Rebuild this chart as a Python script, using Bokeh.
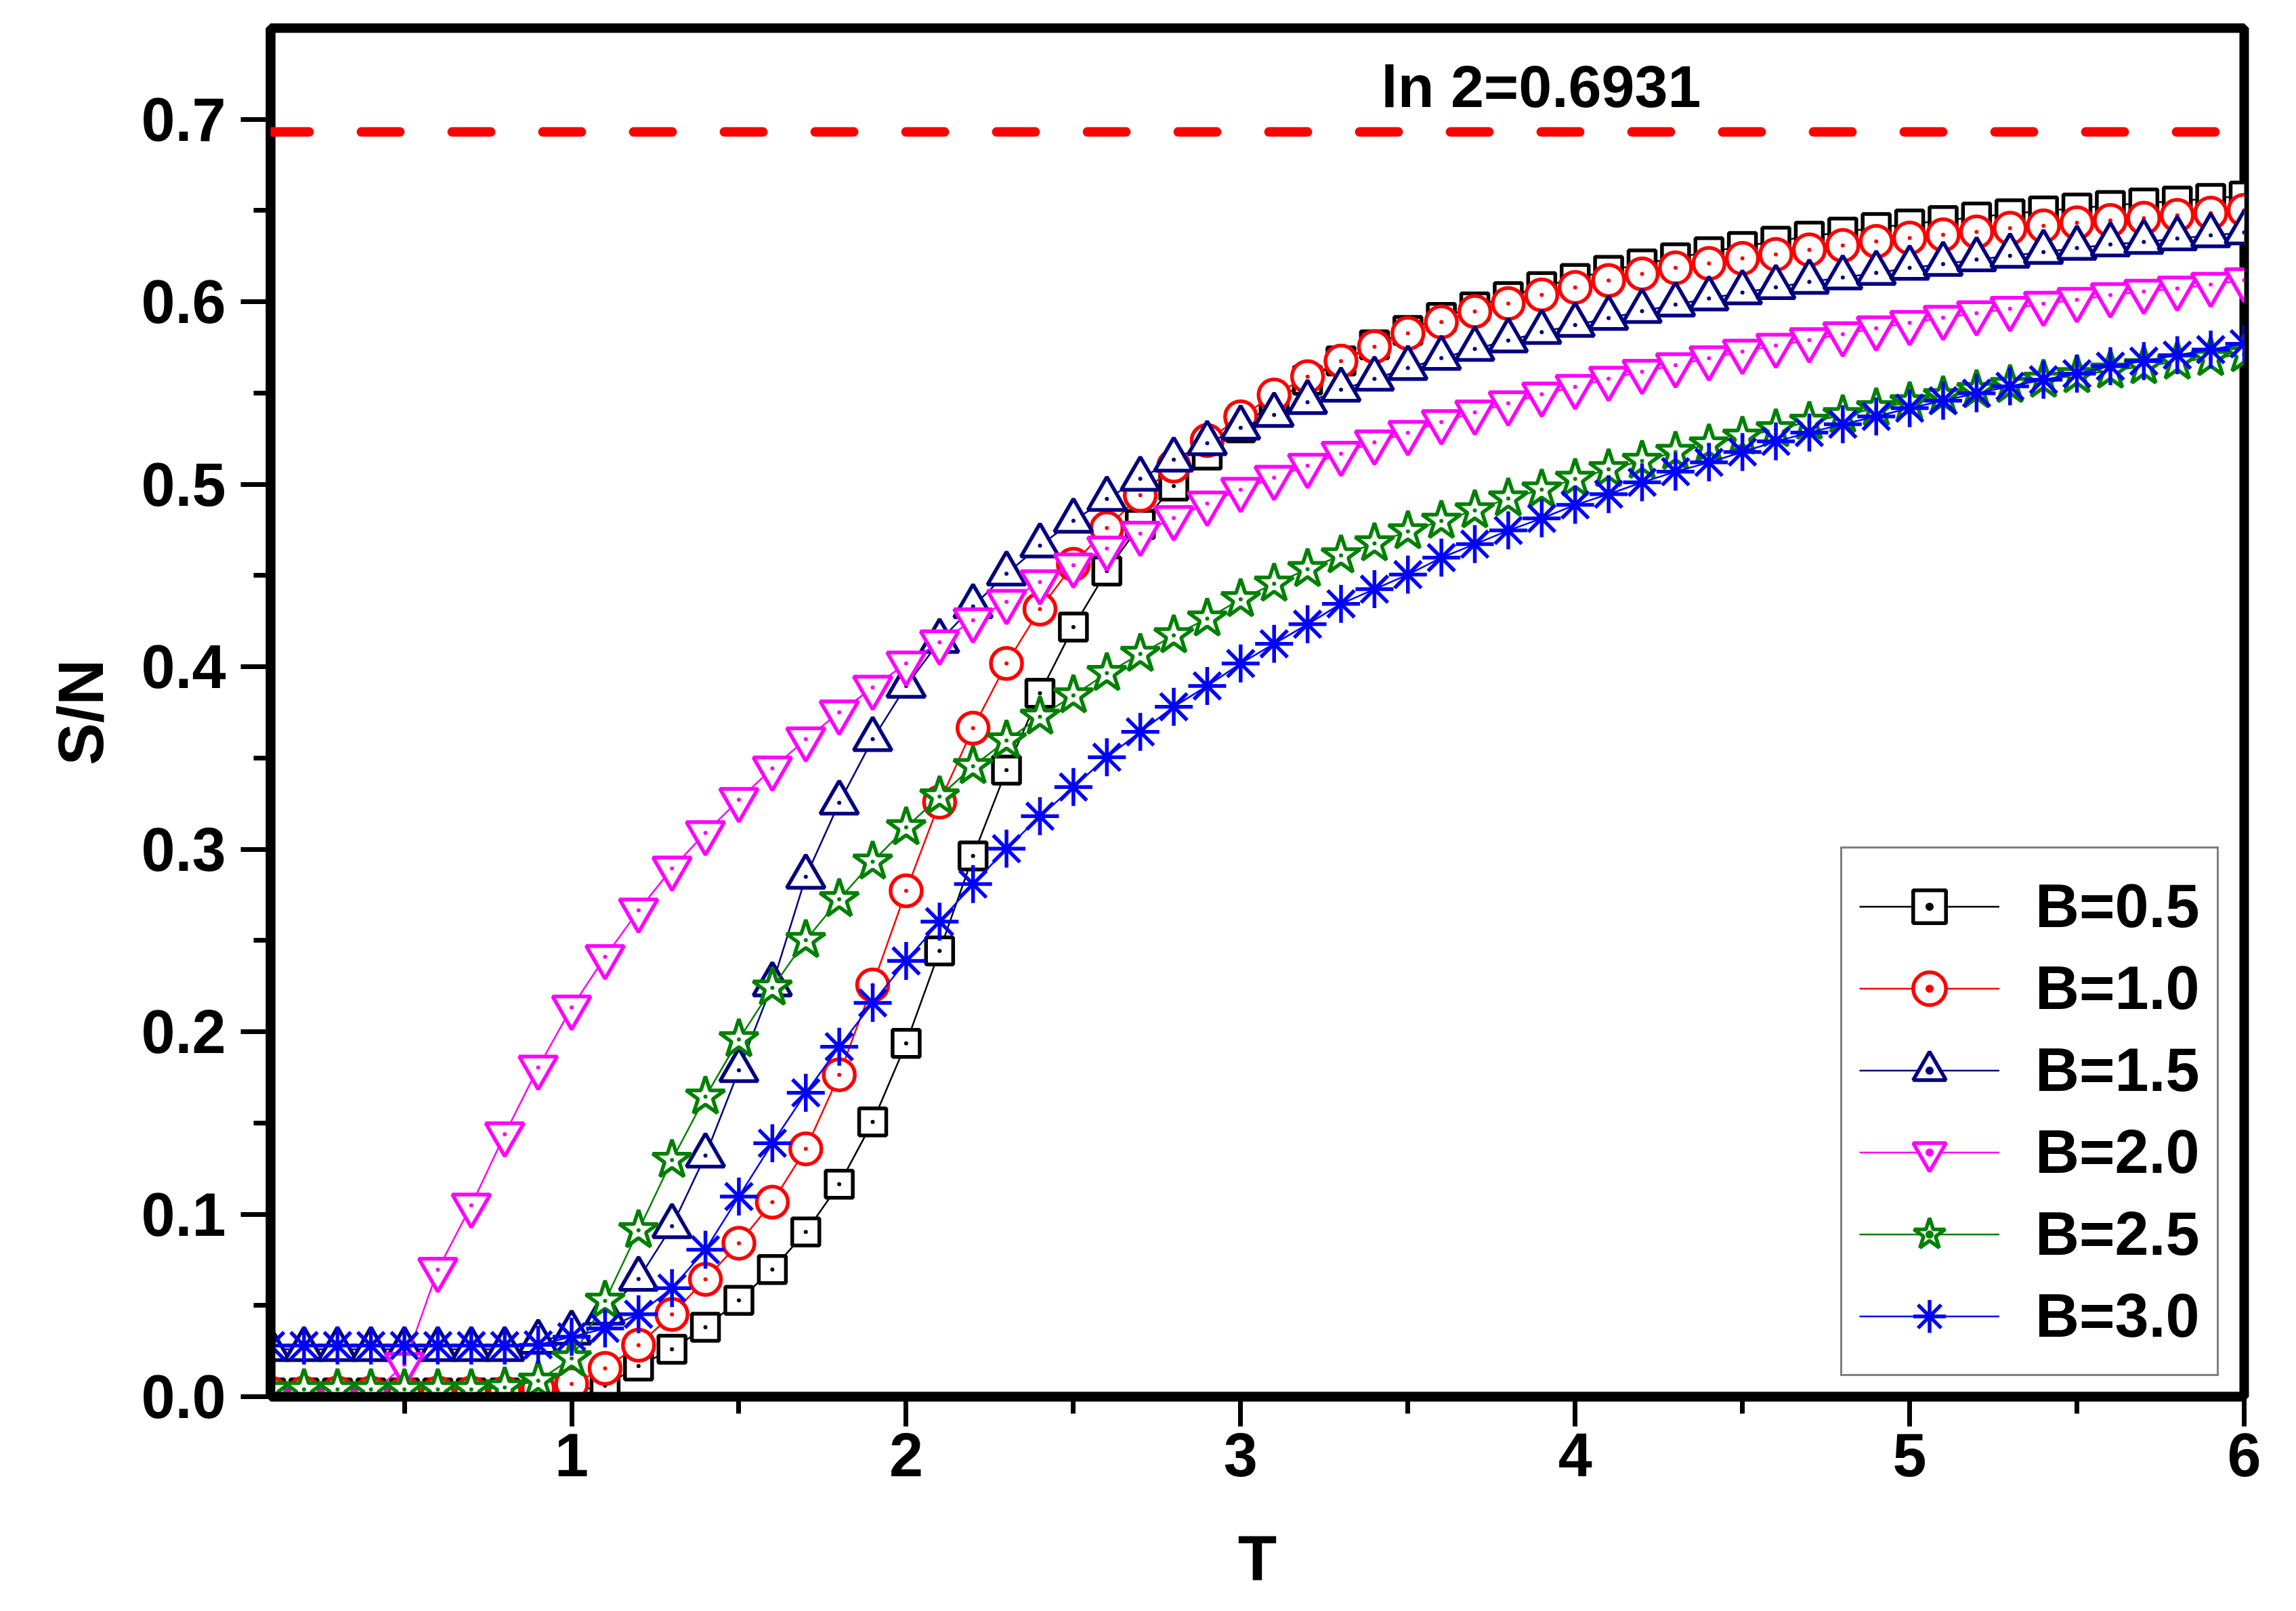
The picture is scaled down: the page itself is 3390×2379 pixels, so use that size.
import math
from bokeh.plotting import figure
from bokeh.models import (Range1d, SingleIntervalTicker, Span, Label, Legend,
                          LegendItem, NumeralTickFormatter, ColumnDataSource)
from bokeh.embed import file_html
from bokeh.resources import INLINE

# ---------------- data ----------------
T = [0.1, 0.2, 0.3, 0.4, 0.5, 0.6, 0.7, 0.8, 0.9, 1.0,
     1.1, 1.2, 1.3, 1.4, 1.5, 1.6, 1.7, 1.8, 1.9, 2.0,
     2.1, 2.2, 2.3, 2.4, 2.5, 2.6, 2.7, 2.8, 2.9, 3.0,
     3.1, 3.2, 3.3, 3.4, 3.5, 3.6, 3.7, 3.8, 3.9, 4.0,
     4.1, 4.2, 4.3, 4.4, 4.5, 4.6, 4.7, 4.8, 4.9, 5.0,
     5.1, 5.2, 5.3, 5.4, 5.5, 5.6, 5.7, 5.8, 5.9, 6.0]

S_B05 = [0.002, 0.002, 0.002, 0.002, 0.002, 0.002, 0.002, 0.002, 0.002, 0.003,
         0.006, 0.0168, 0.026, 0.038, 0.0528, 0.0697, 0.0903, 0.1164, 0.1506, 0.1936,
         0.2443, 0.2963, 0.3434, 0.3855, 0.4218, 0.4525, 0.478, 0.499, 0.516, 0.531,
         0.545, 0.557, 0.5676, 0.5764, 0.5843, 0.5914, 0.5972, 0.6029, 0.6083, 0.6128,
         0.6172, 0.6208, 0.6241, 0.6274, 0.6303, 0.6332, 0.636, 0.6382, 0.6407, 0.6427,
         0.6445, 0.6465, 0.6482, 0.6498, 0.6514, 0.6528, 0.6542, 0.6552, 0.6567, 0.658]

S_B10 = [0.002, 0.002, 0.002, 0.002, 0.002, 0.002, 0.002, 0.002, 0.0044, 0.007,
         0.0155, 0.0282, 0.0451, 0.0643, 0.0841, 0.1066, 0.1358, 0.1764, 0.2256, 0.2772,
         0.3258, 0.3664, 0.4018, 0.4316, 0.4562, 0.476, 0.494, 0.510, 0.524, 0.537,
         0.549, 0.559, 0.5675, 0.5754, 0.5827, 0.5889, 0.5947, 0.5991, 0.6038, 0.6079,
         0.6117, 0.6153, 0.6186, 0.621, 0.6238, 0.626, 0.6285, 0.6309, 0.6331, 0.635,
         0.6367, 0.6383, 0.6403, 0.6416, 0.6433, 0.6446, 0.6458, 0.6474, 0.6486, 0.6502]

S_B15 = [0.026, 0.026, 0.026, 0.026, 0.026, 0.026, 0.026, 0.026, 0.030, 0.035,
         0.046, 0.0645, 0.0934, 0.1321, 0.1789, 0.2259, 0.2849, 0.3255, 0.3603, 0.3895,
         0.4141, 0.4331, 0.451, 0.4664, 0.480, 0.492, 0.503, 0.5135, 0.5225, 0.531,
         0.538, 0.545, 0.5518, 0.5578, 0.5637, 0.5692, 0.5742, 0.5788, 0.5834, 0.5873,
         0.5911, 0.5949, 0.5985, 0.6018, 0.6051, 0.608, 0.6109, 0.6133, 0.6158, 0.6186,
         0.6207, 0.6232, 0.6252, 0.6273, 0.6295, 0.6314, 0.6328, 0.6347, 0.6364, 0.638]

S_B20 = [0.001, 0.001, 0.001, 0.001, 0.0175, 0.0696, 0.1048, 0.1438, 0.1804, 0.2133,
         0.241, 0.2665, 0.2895, 0.3089, 0.3271, 0.3443, 0.3603, 0.375, 0.3886, 0.4018,
         0.4134, 0.4255, 0.4356, 0.4464, 0.4556, 0.4648, 0.473, 0.4815, 0.4895, 0.497,
         0.5036, 0.5102, 0.5168, 0.523, 0.5282, 0.5341, 0.5394, 0.5444, 0.5493, 0.5534,
         0.5579, 0.5617, 0.5653, 0.5691, 0.5727, 0.576, 0.579, 0.5823, 0.5855, 0.5885,
         0.5913, 0.5938, 0.5962, 0.599, 0.6011, 0.6037, 0.6056, 0.6073, 0.6094, 0.6119]

S_B25 = [0.004, 0.004, 0.004, 0.004, 0.004, 0.004, 0.004, 0.005, 0.0087, 0.021,
         0.0525, 0.0912, 0.1297, 0.1644, 0.1958, 0.2241, 0.2502, 0.2726, 0.2932, 0.312,
         0.3289, 0.3455, 0.3596, 0.3726, 0.3843, 0.3965, 0.407, 0.4172, 0.4264, 0.437,
         0.4455, 0.4535, 0.461, 0.4676, 0.4742, 0.4799, 0.4857, 0.4922, 0.4971, 0.5029,
         0.5082, 0.5128, 0.5177, 0.5218, 0.526, 0.5301, 0.5342, 0.5378, 0.5416, 0.5449,
         0.5482, 0.5515, 0.5543, 0.5572, 0.5597, 0.5622, 0.5646, 0.5671, 0.5691, 0.5712]

S_B30 = [0.028, 0.028, 0.028, 0.028, 0.028, 0.028, 0.028, 0.028, 0.0284, 0.0328,
         0.0374, 0.0452, 0.0595, 0.0805, 0.1097, 0.1389, 0.1665, 0.1918, 0.2158, 0.2388,
         0.2603, 0.2809, 0.3003, 0.3181, 0.3341, 0.3504, 0.3643, 0.3781, 0.3895, 0.4018,
         0.4126, 0.4233, 0.4345, 0.4425, 0.4505, 0.4598, 0.4672, 0.4747, 0.4813, 0.4887,
         0.4946, 0.5011, 0.5069, 0.512, 0.5177, 0.5235, 0.5284, 0.5329, 0.5372, 0.5417,
         0.5458, 0.5499, 0.5537, 0.5573, 0.5606, 0.5647, 0.5675, 0.5708, 0.5738, 0.577]

LABELS = ["B=0.5", "B=1.0", "B=1.5", "B=2.0", "B=2.5", "B=3.0"]
LN2 = 0.6931
LN2_TEXT = "ln 2=0.6931"
X_TITLE = "T"
Y_TITLE = "S/N"

# ---------------- figure ----------------
FONT = "Liberation Sans"
W, H = 3374, 2363
p = figure(width=W, height=H, x_range=Range1d(0.1, 6.0), y_range=Range1d(0.0, 0.75),
           output_backend="svg", toolbar_location=None,
           min_border_left=399, min_border_right=61, min_border_top=41,
           min_border_bottom=301)
p.xgrid.visible = False
p.ygrid.visible = False
p.background_fill_color = "white"
p.border_fill_color = "white"
p.outline_line_color = "black"
p.outline_line_width = 14

p.xaxis.ticker = SingleIntervalTicker(interval=1, num_minor_ticks=2)
p.yaxis.ticker = SingleIntervalTicker(interval=0.1, num_minor_ticks=2)
p.yaxis.formatter = NumeralTickFormatter(format="0.0")
for ax in (p.xaxis[0], p.yaxis[0]):
    ax.axis_line_width = 14
    ax.axis_line_color = "black"
    ax.major_tick_line_width = 7
    ax.minor_tick_line_width = 7
    ax.major_tick_line_color = "black"
    ax.minor_tick_line_color = "black"
    ax.major_tick_out = 44
    ax.major_tick_in = 0
    ax.minor_tick_out = 25
    ax.minor_tick_in = 0
    ax.major_label_text_font = FONT
    ax.major_label_text_font_style = "bold"
    ax.major_label_text_font_size = "90px"
    ax.major_label_text_color = "black"
    ax.axis_label_text_font = FONT
    ax.axis_label_text_font_style = "bold"
    ax.axis_label_text_font_size = "94px"
    ax.axis_label_text_color = "black"
p.xaxis.major_label_standoff = 10
p.yaxis.major_label_standoff = 22
p.xaxis.axis_label = X_TITLE
p.yaxis.axis_label = Y_TITLE
p.xaxis.axis_label_standoff = 66
p.yaxis.axis_label_standoff = 33

# reference line ln 2
p.add_layout(Span(location=LN2, dimension="width", line_color="#FF0000",
                  line_width=14, line_dash="57 77", line_cap="round"))

specs = [
    (S_B05, "#000000", ["square"], 40, True),
    (S_B10, "#FF0000", ["circle"], 46, True),
    (S_B15, "#000080", ["triangle"], 56, True),
    (S_B20, "#FF00FF", ["inverted_triangle"], 56, True),
    (S_B25, "#008000", ["star"], 60, True),
    (S_B30, "#0000FF", ["cross", "x"], 56, False),
]

items = []
for label, (vals, col, mks, sz, has_dot) in zip(LABELS, specs):
    src = ColumnDataSource(dict(x=T, y=vals))
    r_line = p.line("x", "y", source=src, line_color=col, line_width=2.5)
    rs = [r_line]
    for mk in mks:
        rs.append(p.scatter("x", "y", source=src, marker=mk, size=sz, line_color=col,
                            fill_color="white", line_width=5.5))
    if has_dot:
        rs.append(p.scatter("x", "y", source=src, marker="dot", size=24,
                            line_color=col, fill_color=col, line_width=2))
    items.append(LegendItem(label=label, renderers=rs))

legend = Legend(items=items, location=(2318, 30), margin=0, padding=25, spacing=0,
                glyph_width=207, glyph_height=121, label_height=121, label_width=240,
                label_standoff=53, label_text_font=FONT, label_text_font_style="bold",
                label_text_font_size="90px", label_text_color="black",
                border_line_color="black", border_line_width=3,
                background_fill_color="white", background_fill_alpha=1.0)
p.add_layout(legend)

p.add_layout(Label(x=3.42, y=0.718, text=LN2_TEXT, text_font=FONT,
                   text_font_style="bold", text_font_size="88px",
                   text_align="left", text_baseline="middle", text_color="black"))

open("out.html", "w").write(file_html(p, INLINE))
